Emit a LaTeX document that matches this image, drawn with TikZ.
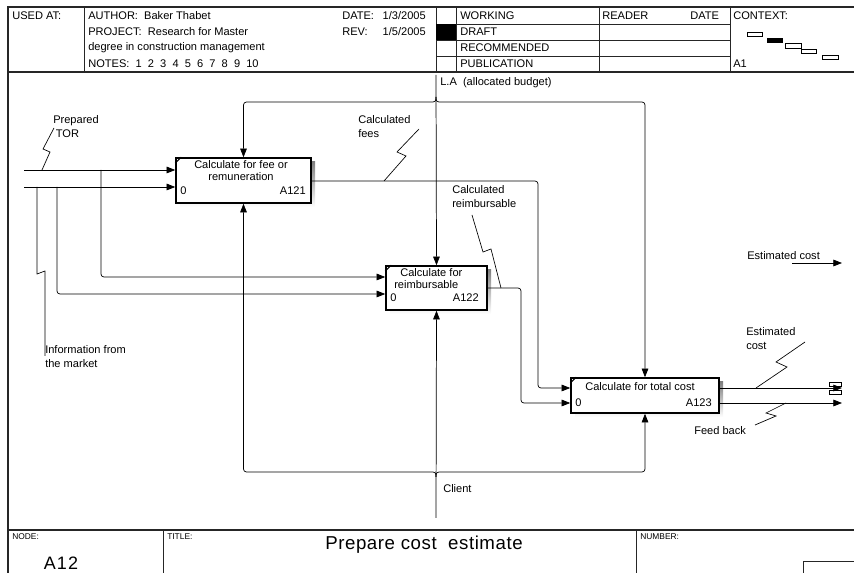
\documentclass[tikz,border=0pt]{standalone}
\usepackage{fontspec}
\setmainfont{Liberation Sans}
\usetikzlibrary{arrows.meta}

\definecolor{shade}{RGB}{255,244,226}

\tikzset{
  frameline/.style={draw=black!85, line width=0.8pt},
  thinline/.style={draw=black!85, line width=0.6pt},
  hdr/.style={font=\fontsize{8.3}{10}\selectfont, anchor=west, inner sep=0pt},
  small/.style={font=\fontsize{6.3}{8}\selectfont, anchor=north west, inner sep=0pt},
  fnbox/.style={draw, line width=1.2pt, fill=white, inner sep=0pt},
  boxtext/.style={font=\fontsize{8.3}{10}\selectfont, inner sep=0pt},
  lbl/.style={font=\fontsize{8.3}{10.3}\selectfont, anchor=north west, inner sep=0pt, align=left},
  flow/.style={draw, line width=0.55pt, rounded corners=2.2pt},
  arr/.style={-{Triangle[length=6.5pt,width=5pt]}},
  squig/.style={draw, line width=0.5pt},
}

\begin{document}
\begin{tikzpicture}[x=0.75pt,y=-0.75pt]
\useasboundingbox (0,0) rectangle (854,573);

% ---------- header block ----------
\draw[frameline] (8,573) -- (8,7) -- (854,7);
\draw[frameline] (8,72) -- (854,72);
\foreach \xx in {84,436,456,599,730} \draw[thinline] (\xx,7) -- (\xx,72);
\foreach \yy in {24,40,56} \draw[thinline] (436,\yy) -- (730,\yy);
\fill (436,24) rectangle (456,40);

\node[hdr] (usedat) at (12,16) {USED AT:};
\node[hdr] (author) at (88,16) {AUTHOR:\ \ Baker Thabet};
\node[hdr] (project) at (88,32) {PROJECT:\ \ Research for Master};
\node[hdr] (project2) at (88,48) {degree in construction management};
\node[hdr] (notes) at (88,64) {NOTES:\ \ 1\ \ 2\ \ 3\ \ 4\ \ 5\ \ 6\ \ 7\ \ 8\ \ 9\ \ 10};
\node[hdr] (date) at (342,16) {DATE:};
\node[hdr, anchor=east] (dateval) at (426,16) {1/3/2005};
\node[hdr] (rev) at (342,32) {REV:};
\node[hdr, anchor=east] (revval) at (426,32) {1/5/2005};
\node[hdr] (working) at (460,16) {WORKING};
\node[hdr] (draft) at (460,32) {DRAFT};
\node[hdr] (recommended) at (460,48) {RECOMMENDED};
\node[hdr] (publication) at (460,64) {PUBLICATION};
\node[hdr] (reader) at (602,16) {READER};
\node[hdr] (rdate) at (690,16) {DATE};
\node[hdr] (context) at (733,16) {CONTEXT:};
\node[hdr] (ctxnode) at (733,64) {A1};

% context thumbnail
\draw[line width=0.6pt] (747,32) rectangle (762,36);
\fill (767,38) rectangle (783,43);
\draw[line width=0.6pt] (785,43) rectangle (801,48);
\draw[line width=0.6pt] (801,49) rectangle (816,53);
\draw[line width=0.6pt] (822,55) rectangle (838,59);

% ---------- footer block ----------
\draw[frameline] (8,530) -- (854,530);
\draw[thinline] (163,530) -- (163,573);
\draw[thinline] (636,530) -- (636,573);
\draw[thinline] (803,573) -- (803,561) -- (854,561);
\node[small] (nodelbl) at (12,533) {NODE:};
\node[small] (titlelbl) at (167,533) {TITLE:};
\node[small] (numberlbl) at (640,533) {NUMBER:};
\node[font=\fontsize{14}{16}\selectfont\addfontfeatures{LetterSpace=3}, inner sep=0pt] (title) at (424,545) {Prepare cost\ \ estimate};
\node[font=\fontsize{13.5}{15}\selectfont\addfontfeatures{LetterSpace=6}, inner sep=0pt] (nodenum) at (61,563) {A12};

% ---------- activity boxes ----------
\fill[shade] (180,162) rectangle (315,207);
\fill[shade] (390,270) rectangle (491,314);
\fill[shade] (575,382) rectangle (723,417);

\node[fnbox, minimum width=101.25pt, minimum height=33.75pt] (A121) at (243.5,180.5) {};
\node[fnbox, minimum width=75.75pt, minimum height=33pt] (A122) at (436.5,288) {};
\node[fnbox, minimum width=111pt, minimum height=26.25pt] (A123) at (645,395.5) {};

\foreach \b in {A121,A122,A123}
  \draw[line width=0.8pt] ([yshift=-4.5pt]\b.north west) -- ([xshift=4.5pt]\b.north west);

\node[boxtext] (A121a) at (241,165) {Calculate for fee or};
\node[boxtext] (A121b) at (241,177) {remuneration};
\node[boxtext, anchor=west] (A121c) at (180,191) {0};
\node[boxtext, anchor=east] (A121d) at (306,191) {A121};

\node[boxtext, anchor=west] (A122a) at (400,273) {Calculate for};
\node[boxtext, anchor=west] (A122b) at (394,285) {reimbursable};
\node[boxtext, anchor=west] (A122c) at (390,298) {0};
\node[boxtext, anchor=east] (A122d) at (479,298) {A122};

\node[boxtext] (A123a) at (640,387) {Calculate for total cost};
\node[boxtext, anchor=west] (A123c) at (575,403) {0};
\node[boxtext, anchor=east] (A123d) at (712,403) {A123};

% ---------- coordinates of the arrows ----------
\coordinate (in1) at (24,170);
\coordinate (in2) at (24,187);
\coordinate (j1) at (101,170);
\coordinate (j2) at (57,187);
\coordinate (j3) at (37,187);
\coordinate (y277) at (0,277);
\coordinate (y294) at (0,294);
\coordinate (y181) at (0,181);
\coordinate (y288) at (0,288);
\coordinate (y388) at (0,388);
\coordinate (y403) at (0,403);
\coordinate (la) at (436,75);
\coordinate (laT) at (436,97);
\coordinate (laJ) at (436,102);
\coordinate (cl) at (436,518);
\coordinate (clB) at (436,477);
\coordinate (clJ) at (436,472);
\coordinate (o1) at (842,388);
\coordinate (o2) at (842,403);
\coordinate (o3a) at (792,263);
\coordinate (o3b) at (842,263);

% inputs
\draw[flow,arr] (in1) -- (A121.west |- in1);
\draw[flow,arr] (in2) -- (A121.west |- in2);
\draw[flow,arr] (j1) -- (j1 |- y277) -- (A122.west |- y277);
\draw[flow,arr] (j2) -- (j2 |- y294) -- (A122.west |- y294);

% box outputs feeding the last step
\draw[flow,arr] (A121.east |- y181) -- (538,181) -- (538,388) -- (A123.west |- y388);
\draw[flow,arr] (A122.east |- y288) -- (521,288) -- (521,403) -- (A123.west |- y403);

% controls
\draw[flow,arr] (la) -- (A122.north);
\draw[flow,arr] (laT) -- (laJ) -| (A121.north);
\draw[flow,arr] (laT) -- (laJ) -| (A123.north);

% mechanisms
\draw[flow,arr] (cl) -- (A122.south);
\draw[flow,arr] (clB) -- (clJ) -| (A121.south);
\draw[flow,arr] (clB) -- (clJ) -| (A123.south);

% outputs
\draw[flow,arr] (A123.east |- y388) -- (o1);
\draw[flow,arr] (A123.east |- y403) -- (o2);
\draw[line width=0.6pt] (829,382) rectangle (841,386);
\draw[line width=0.6pt] (829,390) rectangle (841,394);
\draw[flow,arr] (o3a) -- (o3b);

% ---------- labels and their leaders ----------
\node[lbl] (tor) at (53,115) {Prepared\\\hspace{2pt}TOR};
\draw[squig] (42,170) -- (50,152) -- (43,149) -- (54,128);

\node[lbl] (info) at (45,345) {Information from\\the market};
\draw[squig] (j3) -- (37,274) -- (45,271) -- (45,356);

\node[lbl] (fees) at (358,115) {Calculated\\fees};
\draw[squig] (384,181) -- (406,156) -- (397,152) -- (419,129);

\node[lbl] (reimb) at (452,185) {Calculated\\reimbursable};
\draw[squig] (472,215) -- (483,252) -- (491,249) -- (501,288);

\node[lbl] (estc) at (746,327) {Estimated\\cost};
\draw[squig] (756,388) -- (787,367) -- (776,362) -- (805,342);

\node[lbl, anchor=west] (fb) at (694,431) {Feed back};
\draw[squig] (786,403) -- (766,413) -- (776,416) -- (755,425);

\node[lbl, anchor=west] (estc2) at (747,256) {Estimated cost};

\node[lbl, anchor=west] (latext) at (440,83) {L.A\ \ (allocated budget)};
\node[lbl, anchor=west] (client) at (443,489) {Client};

\end{tikzpicture}
\end{document}
